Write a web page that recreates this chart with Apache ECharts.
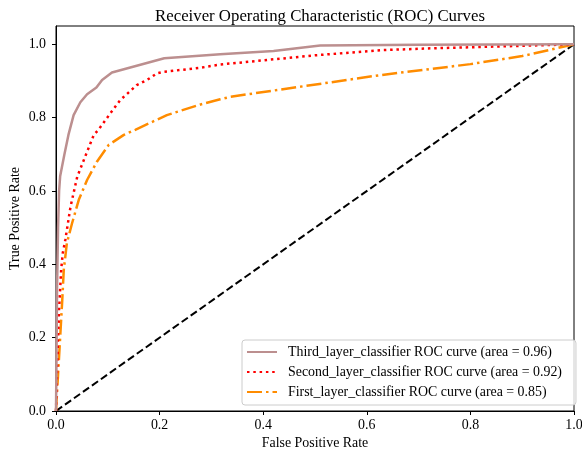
<!DOCTYPE html>
<html>
<head>
<meta charset="utf-8">
<script src="https://cdn.jsdelivr.net/npm/echarts@6/dist/echarts.min.js"></script>
<style>html,body{margin:0;padding:0;background:#fff;overflow:hidden}#c{width:582px;height:450px}</style>
</head>
<body>
<div id="c"></div>
<script>
const titleText = 'Receiver Operating Characteristic (ROC) Curves';
const xName = 'False Positive Rate';
const yName = 'True Positive Rate';
const tickValues = [0, 0.2, 0.4, 0.6, 0.8, 1.0];

const thirdName = 'Third_layer_classifier ROC curve (area = 0.96)';
const thirdFpr = [0, 0.001, 0.002, 0.004, 0.006, 0.008, 0.016, 0.024, 0.034, 0.047, 0.060, 0.078, 0.089, 0.108, 0.209, 0.317, 0.42, 0.51, 0.7, 1.0];
const thirdTpr = [0, 0.15, 0.33, 0.50, 0.60, 0.64, 0.698, 0.753, 0.807, 0.842, 0.864, 0.882, 0.903, 0.923, 0.962, 0.973, 0.982, 0.997, 0.999, 1.0];

const secondName = 'Second_layer_classifier ROC curve (area = 0.92)';
const secondFpr = [0, 0.003, 0.006, 0.010, 0.013, 0.018, 0.028, 0.041, 0.060, 0.073, 0.082, 0.105, 0.124, 0.156, 0.176, 0.195, 0.208, 0.279, 0.317, 0.5, 0.626, 0.723, 0.9, 1.0];
const secondTpr = [0, 0.15, 0.28, 0.385, 0.43, 0.467, 0.557, 0.639, 0.707, 0.753, 0.767, 0.812, 0.848, 0.889, 0.903, 0.921, 0.925, 0.936, 0.945, 0.970, 0.984, 0.989, 0.996, 1.0];

const firstName = 'First_layer_classifier ROC curve (area = 0.85)';
const firstFpr = [0, 0.004, 0.008, 0.012, 0.015, 0.021, 0.031, 0.044, 0.060, 0.079, 0.102, 0.131, 0.153, 0.214, 0.279, 0.317, 0.337, 0.626, 0.8, 0.9, 1.0];
const firstTpr = [0, 0.10, 0.20, 0.30, 0.385, 0.458, 0.512, 0.576, 0.630, 0.680, 0.726, 0.753, 0.767, 0.807, 0.836, 0.850, 0.857, 0.916, 0.946, 0.968, 1.0];

const diagFpr = [0, 1];
const diagTpr = [0, 1];

const pairs = (xs, ys) => xs.map((x, i) => [x, ys[i]]);
const FONT = '"Liberation Serif", "Times New Roman", serif';

const chart = echarts.init(document.getElementById('c'), null, {renderer: 'canvas'});
chart.setOption({
  animation: false,
  backgroundColor: '#fff',
  textStyle: {fontFamily: FONT},
  title: {
    text: titleText, left: 315, top: 3, textAlign: 'center',
    textStyle: {fontFamily: FONT, fontSize: 16.8, fontWeight: 'normal', color: '#000'}
  },
  grid: {left: 56, right: 8, top: 26, bottom: 39, show: true, borderColor: '#000', borderWidth: 1,
         backgroundColor: 'transparent', containLabel: false, outerBoundsMode: 'none'},
  xAxis: {
    type: 'value', min: 0, max: 1, interval: 0.2,
    name: xName, nameLocation: 'middle', nameGap: 25, nameMoveOverlap: false,
    nameTextStyle: {fontFamily: FONT, fontSize: 13.9, color: '#000'},
    axisLine: {show: true, lineStyle: {color: '#000', width: 1}},
    axisTick: {show: true, length: 4, lineStyle: {color: '#000'}},
    axisLabel: {margin: 7, fontFamily: FONT, fontSize: 13.9, color: '#000', formatter: v => v.toFixed(1)},
    splitLine: {show: false}
  },
  yAxis: {
    type: 'value', min: 0, max: 1.05,
    name: yName, nameLocation: 'middle', nameGap: 34, nameMoveOverlap: false,
    nameTextStyle: {fontFamily: FONT, fontSize: 13.9, color: '#000'},
    axisLine: {show: true, lineStyle: {color: '#000', width: 1}},
    axisTick: {show: true, length: 4, lineStyle: {color: '#000'}, customValues: tickValues},
    axisLabel: {margin: 10, fontFamily: FONT, fontSize: 13.9, color: '#000', customValues: tickValues, formatter: v => v.toFixed(1)},
    splitLine: {show: false}
  },
  legend: {
    orient: 'vertical', left: 242, top: 340,
    data: [thirdName, secondName, firstName],
    backgroundColor: 'rgba(255,255,255,0.8)',
    borderColor: '#cccccc', borderWidth: 1, borderRadius: 3,
    padding: [5, 14, 6, 4],
    itemWidth: 30, itemHeight: 14, itemGap: 6,
    itemStyle: {color: 'transparent', borderWidth: 0, opacity: 0},
    textStyle: {fontFamily: FONT, fontSize: 13.9, color: '#000', padding: [0, 0, 0, 6]}
  },
  series: [
    {
      name: 'diag', type: 'line', data: pairs(diagFpr, diagTpr), symbol: 'none',
      lineStyle: {color: '#000', width: 2, type: [7.5, 3.5], cap: 'butt'}, z: 2
    },
    {
      name: firstName, type: 'line', data: pairs(firstFpr, firstTpr), symbol: 'none',
      color: '#ff8c00',
      lineStyle: {color: '#ff8c00', width: 2.5, type: [15, 4, 2.5, 4], cap: 'butt'}, z: 3
    },
    {
      name: secondName, type: 'line', data: pairs(secondFpr, secondTpr), symbol: 'none',
      color: '#ff0000',
      lineStyle: {color: '#ff0000', width: 2.5, type: [2.5, 3.8], cap: 'butt'}, z: 4
    },
    {
      name: thirdName, type: 'line', data: pairs(thirdFpr, thirdTpr), symbol: 'none',
      color: '#bc8f8f',
      lineStyle: {color: '#bc8f8f', width: 2.5, type: 'solid'}, z: 5
    }
  ]
});
</script>
</body>
</html>
